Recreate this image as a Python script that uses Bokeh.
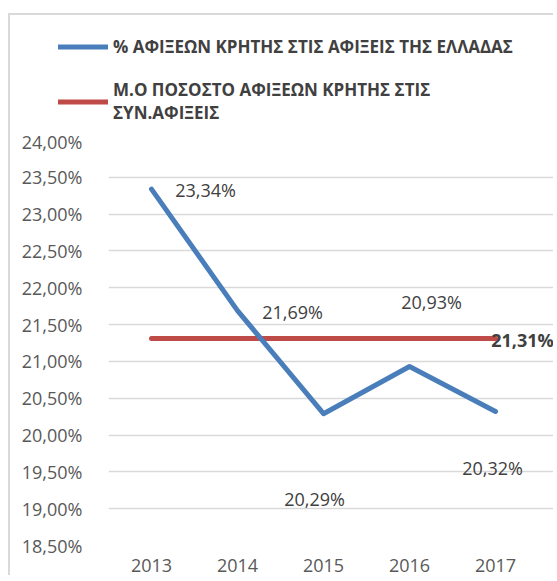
from bokeh.plotting import figure
from bokeh.models import (Range1d, FixedTicker, CustomJSTickFormatter,
                          ColumnDataSource, Legend, LegendItem, LabelSet)
from bokeh.core.properties import value
from bokeh.embed import file_html
from bokeh.resources import INLINE

# ---- data ----
years = ["2013", "2014", "2015", "2016", "2017"]
crete_share = [23.34, 21.69, 20.29, 20.93, 20.32]
avg_share = [21.31, 21.31, 21.31, 21.31, 21.31]
y_ticks = [18.5, 19.0, 19.5, 20.0, 20.5, 21.0, 21.5, 22.0, 22.5, 23.0, 23.5, 24.0]
series1_name = "% ΑΦΙΞΕΩΝ ΚΡΗΤΗΣ ΣΤΙΣ ΑΦΙΞΕΙΣ ΤΗΣ ΕΛΛΑΔΑΣ"
series2_name = "Μ.Ο ΠΟΣΟΣΤΟ ΑΦΙΞΕΩΝ ΚΡΗΤΗΣ ΣΤΙΣ\nΣΥΝ.ΑΦΙΞΕΙΣ"

# label placement (pixels, layout only)
lab_dx = [54, 55, -9, 22, -3]
lab_dy = [1, 1, 85, -65, 57]

def fmt(v):
    return f"{v:.2f}".replace(".", ",") + "%"

FONT = "Open Sans"
BLUE = "#4a7ebb"
RED = "#be4b48"
W = 545
LEG_H = 116

pos = list(range(len(years)))          # category slots on the x axis

# ---- legend strip ----
leg = figure(width=W, height=LEG_H, x_range=Range1d(0, 1), y_range=Range1d(0, 1),
             output_backend="svg", toolbar_location=None,
             min_border_left=0, min_border_right=0, min_border_top=0, min_border_bottom=0,
             x_axis_type=None, y_axis_type=None,
             styles={"margin-left": "8px", "margin-top": "13px", "vertical-align": "top",
                     "border-left": "2px solid #d9d9d9", "border-top": "2px solid #d9d9d9"})
leg.outline_line_color = None
leg.grid.visible = False
# legend-key renderers (off-range stand-ins so only the legend keys show)
h1 = leg.segment(x0=[-1], y0=[-1], x1=[-1], y1=[-1], line_color=BLUE, line_width=5,
                 line_cap="round")
h2 = leg.segment(x0=[-1], y0=[-1], x1=[-1], y1=[-1], line_color=RED, line_width=5,
                 line_cap="round")
legend = Legend(items=[LegendItem(label=series1_name, renderers=[h1]),
                       LegendItem(label=series2_name, renderers=[h2])],
                location=(48, 7), orientation="vertical",
                glyph_width=50, glyph_height=27, label_standoff=5, spacing=18,
                padding=0, margin=0, border_line_color=None, background_fill_alpha=0,
                label_text_font=FONT, label_text_font_size="17px",
                label_text_font_style="bold", label_text_color="#404040",
                label_text_line_height=1.85, label_height=27)
leg.add_layout(legend, "center")

# ---- main chart ----
# 5 category bands of ~86 px; frame runs on to the canvas edge so the end label fits
p = figure(width=W, height=446, x_range=Range1d(-0.5, len(years) - 0.5 + 17 / 86),
           y_range=Range1d(y_ticks[0], y_ticks[-1]),
           output_backend="svg", toolbar_location=None,
           min_border_left=98, min_border_right=0, min_border_top=11, min_border_bottom=30,
           styles={"margin-left": "8px", "vertical-align": "top",
                   "border-left": "2px solid #d9d9d9"})
p.outline_line_color = None
p.xgrid.grid_line_color = None
p.ygrid.grid_line_color = "#d9d9d9"
p.ygrid.grid_line_width = 1.5

p.xaxis.ticker = FixedTicker(ticks=pos)
p.xaxis.major_label_overrides = {i: y for i, y in zip(pos, years)}
p.yaxis.ticker = FixedTicker(ticks=y_ticks)
p.yaxis.formatter = CustomJSTickFormatter(code="return tick.toFixed(2).replace('.', ',') + '%';")
for ax in (p.xaxis, p.yaxis):
    ax.axis_line_color = None
    ax.major_tick_line_color = None
    ax.minor_tick_line_color = None
    ax.major_label_text_font = FONT
    ax.major_label_text_font_size = "18px"
    ax.major_label_text_color = "#595959"
p.yaxis.major_label_standoff = 20
p.xaxis.major_label_standoff = 7

p.line(pos, avg_share, line_color=RED, line_width=5, line_cap="round")
p.line(pos, crete_share, line_color=BLUE, line_width=5, line_cap="round", line_join="round")

src = ColumnDataSource(dict(x=pos, y=crete_share, t=[fmt(v) for v in crete_share],
                            dx=lab_dx, dy=lab_dy))
p.text(x="x", y="y", text="t", x_offset="dx", y_offset="dy", source=src,
       text_font=value(FONT), text_font_size="18px", text_color="#404040",
       text_align="center", text_baseline="middle")

avg_src = ColumnDataSource(dict(x=[pos[-1]], y=[avg_share[-1]], t=[fmt(avg_share[-1])]))
p.add_layout(LabelSet(x="x", y="y", text="t", source=avg_src, x_offset=27, y_offset=-1,
                      text_font=value(FONT), text_font_size=value("18px"),
                      text_font_style=value("bold"), text_color=value("#404040"),
                      text_align=value("center"), text_baseline=value("middle")))

open("out.html", "w").write(file_html([leg, p], INLINE))
